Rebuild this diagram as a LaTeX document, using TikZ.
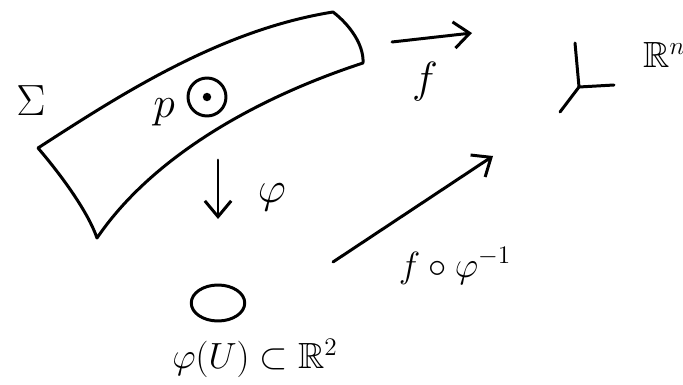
\documentclass[tikz,border=0pt]{standalone}
\usepackage{amssymb}
\usetikzlibrary{arrows.meta,shapes.geometric}
\begin{document}
\begin{tikzpicture}[x=0.02cm,y=-0.02cm,>={Straight Barb[length=9pt,width=15pt]},line width=1.7pt,line cap=round,line join=round]
  \tikzstyle{lbl}=[inner sep=1pt,font=\Huge]
  \useasboundingbox (0,0) rectangle (683,385);
  % the strip Sigma
  \draw (38,148) .. controls (120,95) and (220,30) .. (333,12)
        .. controls (350,25) and (364,45) .. (363,63)
        .. controls (250,100) and (150,160) .. (97,238)
        .. controls (88,212) and (62,176) .. (38,148);
  \node[lbl] (sigma) at (31,101) {$\Sigma$};
  \node[lbl] (p) at (164,112) {$p$};
  \node[draw,circle,minimum size=0.76cm,inner sep=0pt] (nbhd) at (207,97) {};
  \fill (nbhd.center) circle (2.4pt);
  % chart down to the plane
  \coordinate (phis) at (218,160);
  \coordinate (phit) at (218,219);
  \draw[->] (phis) -- (phit);
  \node[lbl] (phi) at (272,197) {$\varphi$};
  \node[draw,ellipse,minimum width=1.07cm,minimum height=0.72cm,inner sep=0pt] (img) at (218,303) {};
  \node[lbl,font=\huge] (imglbl) at (255,358) {$\varphi(U)\subset\mathbb{R}^2$};
  % f into R^n
  \coordinate (fs) at (392,42);
  \coordinate (ft) at (472,33);
  \draw[->] (fs) -- (ft);
  \node[lbl] (f) at (425,82) {$f$};
  \coordinate (orig) at (579,87);
  \coordinate (ay) at (575,43);
  \coordinate (ax) at (614,85);
  \coordinate (az) at (560,112);
  \draw (ay) -- (orig) -- (ax);
  \draw (orig) -- (az);
  \node[lbl,font=\huge,anchor=west] (rn) at (640,55) {$\mathbb{R}^n$};
  % composite map
  \coordinate (ds) at (333,262);
  \coordinate (dt) at (493,156);
  \draw[->] (ds) -- (dt);
  \node[lbl,font=\huge] (comp) at (455,266) {$f\circ\varphi^{-1}$};
\end{tikzpicture}
\end{document}
